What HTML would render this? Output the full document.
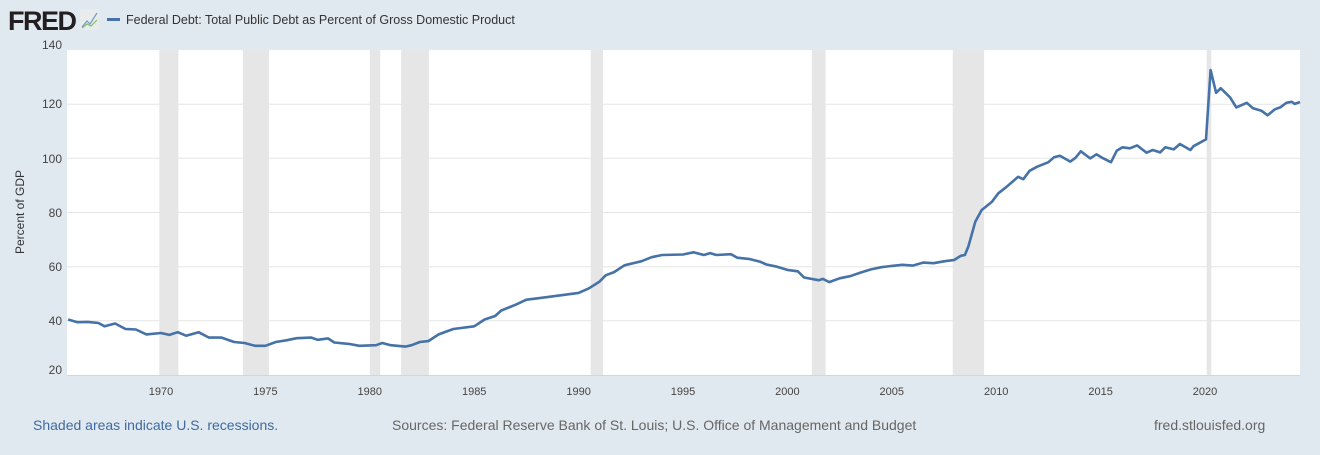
<!DOCTYPE html>
<html><head><meta charset="utf-8"><style>
body{margin:0;width:1320px;height:450px;background:#e1e9f0;font-family:"Liberation Sans",sans-serif;overflow:hidden}
</style></head><body>
<svg width="1320" height="450" xmlns="http://www.w3.org/2000/svg" font-family="Liberation Sans, sans-serif">
<rect width="1320" height="450" fill="#e1e9f0"/>
<text x="8" y="30" font-size="27" font-weight="bold" fill="#231f20" letter-spacing="-1.5">FRED</text>
<rect x="80" y="9" width="19" height="21" fill="#e8ecec" rx="2"/>
<polyline points="82,27 87,21 90,24 97,13" fill="none" stroke="#6f9bc8" stroke-width="1.2"/>
<polyline points="82,28 87,24 91,26 97,20" fill="none" stroke="#8ab86a" stroke-width="1.2"/>
<rect x="107" y="18" width="13" height="3" fill="#4572a7"/>
<text x="126" y="24" font-size="12.5" fill="#333">Federal Debt: Total Public Debt as Percent of Gross Domestic Product</text>
<rect x="67" y="50" width="1233" height="325" fill="#fff"/>
<g id="rec" fill="#e6e6e6"></g>
<g stroke="#e6e6e6" stroke-width="1">
<line x1="67" x2="1300" y1="104.2" y2="104.2"/><line x1="67" x2="1300" y1="158.3" y2="158.3"/>
<line x1="67" x2="1300" y1="212.5" y2="212.5"/><line x1="67" x2="1300" y1="266.7" y2="266.7"/>
<line x1="67" x2="1300" y1="320.8" y2="320.8"/></g>
<line x1="67" x2="1300" y1="375.5" y2="375.5" stroke="#ccd6eb"/>
<g font-size="12" fill="#444" text-anchor="end">
<text x="62" y="49">140</text><text x="62" y="108">120</text><text x="62" y="163">100</text>
<text x="62" y="217">80</text><text x="62" y="271">60</text><text x="62" y="325">40</text><text x="62" y="374">20</text></g>
<g id="xt" font-size="11" fill="#444" text-anchor="middle"></g>
<text transform="translate(24,212) rotate(-90)" font-size="12" fill="#333" text-anchor="middle">Percent of GDP</text>
<path id="ln" fill="none" stroke="#4572a7" stroke-width="2.6" stroke-linejoin="round"/>
<text x="33" y="430" font-size="14" fill="#3f6a9e">Shaded areas indicate U.S. recessions.</text>
<text x="392" y="430" font-size="14" fill="#666">Sources: Federal Reserve Bank of St. Louis; U.S. Office of Management and Budget</text>
<text x="1154" y="430" font-size="14" fill="#666">fred.stlouisfed.org</text>
</svg>
<script>
const X=y=>161+(y-1970)*20.88, Y=v=>375-(v-20)*2.708;
const ns="http://www.w3.org/2000/svg";
let g=document.getElementById('rec');
[[1969.92,1970.83],[1973.92,1975.17],[1980,1980.5],[1981.5,1982.83],[1990.58,1991.17],[2001.17,2001.83],[2007.92,2009.42],[2020.08,2020.3]].forEach(r=>{let e=document.createElementNS(ns,'rect');e.setAttribute('x',X(r[0]));e.setAttribute('width',X(r[1])-X(r[0]));e.setAttribute('y',50);e.setAttribute('height',325);g.appendChild(e);});
let xt=document.getElementById('xt');
for(let y=1970;y<=2020;y+=5){let t=document.createElementNS(ns,'text');t.setAttribute('x',X(y));t.setAttribute('y',395);t.textContent=y;xt.appendChild(t);}
const d=[1965.55,40.5,1966,39.5,1966.5,39.6,1967,39.2,1967.3,38,1967.8,39,1968.3,37,1968.8,36.8,1969.3,35,1970,35.5,1970.4,34.8,1970.8,35.8,1971.2,34.5,1971.8,35.8,1972.3,33.8,1972.9,33.8,1973.5,32.2,1974,31.8,1974.5,30.8,1975,30.8,1975.5,32.2,1976,32.8,1976.5,33.6,1977.2,33.8,1977.5,33,1978,33.5,1978.3,32,1979,31.5,1979.5,30.8,1980.3,31,1980.6,31.8,1981,31,1981.7,30.5,1982,31,1982.4,32.2,1982.8,32.5,1983.3,35,1984,37,1985,38,1985.5,40.5,1986,41.8,1986.3,43.8,1987,46,1987.5,47.8,1988,48.3,1989,49.3,1990,50.3,1990.5,52,1991,54.5,1991.3,56.8,1991.7,58,1992.2,60.5,1993,62,1993.5,63.5,1994,64.3,1995,64.5,1995.5,65.3,1996,64.3,1996.3,65,1996.6,64.3,1997.3,64.6,1997.6,63.3,1998.2,62.8,1998.7,61.8,1999,60.8,1999.5,60,2000,58.8,2000.5,58.3,2000.8,56,2001.5,55,2001.7,55.5,2002,54.3,2002.5,55.7,2003,56.5,2003.5,57.8,2004,59,2004.5,59.8,2005,60.3,2005.5,60.7,2006,60.4,2006.5,61.5,2007,61.3,2007.5,62,2008,62.5,2008.3,64,2008.5,64.3,2008.67,67.5,2009.0,76.6,2009.3,80.9,2009.8,84,2010.1,87.1,2010.5,89.5,2011.05,93.2,2011.3,92.3,2011.6,95.4,2011.95,96.9,2012.5,98.6,2012.77,100.4,2013.05,101,2013.55,98.8,2013.8,100.2,2014.05,102.6,2014.5,100,2014.8,101.5,2015.1,100.1,2015.5,98.6,2015.77,102.8,2016.05,104.1,2016.4,103.7,2016.75,104.8,2017.2,102.1,2017.5,103.1,2017.85,102.2,2018.1,104.1,2018.5,103.3,2018.8,105.3,2019.3,103.1,2019.45,104.5,2020.05,107,2020.27,132.6,2020.53,124.2,2020.75,125.9,2021.2,122.5,2021.5,118.8,2022.0,120.5,2022.3,118.5,2022.7,117.6,2023.0,115.9,2023.35,118.1,2023.6,118.8,2023.9,120.5,2024.15,120.9,2024.3,120.1,2024.55,120.8];
let p='';for(let i=0;i<d.length;i+=2)p+=(i?'L':'M')+X(d[i]).toFixed(1)+','+Y(d[i+1]).toFixed(1);
document.getElementById('ln').setAttribute('d',p);
</script>
</body></html>
